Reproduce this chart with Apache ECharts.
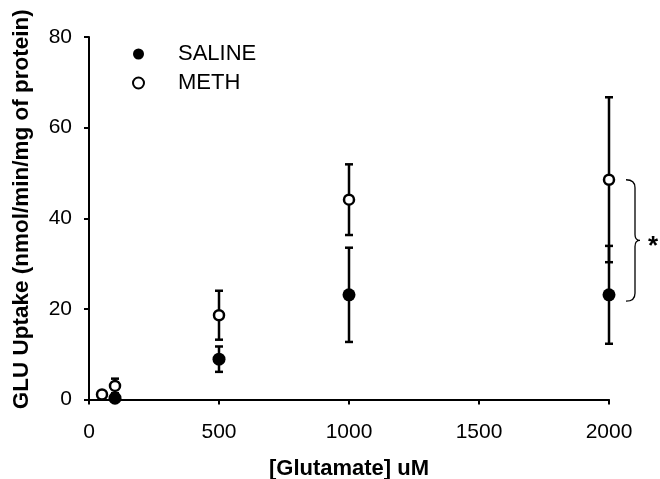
<!DOCTYPE html>
<html>
<head>
<meta charset="utf-8">
<script src="https://cdn.jsdelivr.net/npm/echarts@6/dist/echarts.min.js"></script>
<style>
  html, body { margin: 0; padding: 0; background: #fff; }
  #chart { width: 660px; height: 479px; }
</style>
</head>
<body>
<div id="chart"></div>
<script>
// glutamate concentration (uM)
const salineX = [100, 500, 1000, 2000]
const salineMean = [0.3, 8.9, 23.1, 23.1]
const salineErr = [0.4, 2.8, 10.4, 10.8]

const methX = [50, 100, 500, 1000, 2000]
const methMean = [1.1, 3.0, 18.6, 44.1, 48.5]
const methErr = [0.4, 1.6, 5.4, 7.8, 18.2]

// bracket between the two 2000 uM means
const bracketX = 2000
const bracketTop = 48.5
const bracketBottom = 21.7

const font = "'Liberation Sans', Arial, sans-serif"

const toErr = (xs, mean, err) => xs.map((x, i) => [x, mean[i] - err[i], mean[i] + err[i]])

// error bar renderer
const renderErr = (params, api) => {
  const lo = api.coord([api.value(0), api.value(1)])
  const hi = api.coord([api.value(0), api.value(2)])
  const w = 4
  const style = { stroke: '#000', lineWidth: 2.5 }
  return {
    type: 'group',
    children: [
      { type: 'line', shape: { x1: lo[0], y1: lo[1], x2: hi[0], y2: hi[1] }, style },
      { type: 'line', shape: { x1: hi[0] - w, y1: hi[1], x2: hi[0] + w, y2: hi[1] }, style },
      { type: 'line', shape: { x1: lo[0] - w, y1: lo[1], x2: lo[0] + w, y2: lo[1] }, style }
    ]
  }
}

// curly brace + asterisk
const renderBrace = (params, api) => {
  const a = api.coord([api.value(0), api.value(1)])
  const b = api.coord([api.value(0), api.value(2)])
  const x0 = a[0] + 17
  const xs = a[0] + 26
  const xt = a[0] + 31
  const y1 = a[1]
  const y2 = b[1]
  const ym = (y1 + y2) / 2
  const path =
    `M${x0},${y1} Q${xs},${y1} ${xs},${y1 + 8} L${xs},${ym - 6} Q${xs},${ym} ${xt},${ym} ` +
    `Q${xs},${ym} ${xs},${ym + 6} L${xs},${y2 - 8} Q${xs},${y2} ${x0},${y2}`
  return {
    type: 'group',
    children: [
      { type: 'path', shape: { pathData: path }, style: { stroke: '#000', lineWidth: 1.3, fill: null } },
      {
        type: 'text',
        style: {
          x: xt + 13, y: ym + 6, text: '*',
          fontSize: 26, fontWeight: 'bold', fontFamily: font,
          fill: '#000', align: 'center', verticalAlign: 'middle'
        }
      }
    ]
  }
}

const chart = echarts.init(document.getElementById('chart'))

const axisCommon = {
  axisLine: { lineStyle: { color: '#000', width: 2 } },
  axisTick: { inside: false, length: 5, lineStyle: { color: '#000', width: 2 } },
  splitLine: { show: false }
}

chart.setOption({
  animation: false,
  backgroundColor: '#fff',
  grid: { left: 89, right: 51, top: 37, bottom: 79.5, outerBoundsMode: 'none', containLabel: false },
  legend: {
    orient: 'vertical',
    left: 127,
    top: 38,
    itemWidth: 11,
    itemHeight: 11,
    itemGap: 7,
    data: ['SALINE', 'METH'],
    textStyle: { color: '#000', fontSize: 22, fontFamily: font, padding: [0, 0, 0, 29] }
  },
  xAxis: {
    type: 'value',
    min: 0,
    max: 2000,
    interval: 500,
    name: '[Glutamate] uM',
    nameLocation: 'middle',
    nameGap: 58,
    nameTextStyle: { color: '#000', fontSize: 22, fontWeight: 'bold', fontFamily: font },
    ...axisCommon,
    axisLabel: { color: '#000', fontSize: 21, fontFamily: font, margin: 22, formatter: v => String(v) }
  },
  yAxis: {
    type: 'value',
    min: 0,
    max: 80,
    interval: 20,
    name: 'GLU Uptake (nmol/min/mg of protein)',
    nameLocation: 'middle',
    nameGap: 56,
    nameTextStyle: {
      color: '#000', fontSize: 22.5, fontWeight: 'bold', fontFamily: font,
      padding: [0, 0, 0, 18]
    },
    ...axisCommon,
    axisLabel: { color: '#000', fontSize: 21, fontFamily: font, margin: 17 }
  },
  series: [
    {
      type: 'custom',
      renderItem: renderErr,
      encode: { x: 0, y: [1, 2] },
      data: toErr(salineX, salineMean, salineErr),
      z: 2
    },
    {
      type: 'custom',
      renderItem: renderErr,
      encode: { x: 0, y: [1, 2] },
      data: toErr(methX, methMean, methErr),
      z: 2
    },
    {
      name: 'SALINE',
      type: 'scatter',
      symbol: 'circle',
      symbolSize: 13,
      itemStyle: { color: '#000', opacity: 1 },
      data: salineX.map((x, i) => [x, salineMean[i]]),
      z: 3
    },
    {
      name: 'METH',
      type: 'scatter',
      symbol: 'circle',
      symbolSize: 10,
      itemStyle: { color: '#fff', borderColor: '#000', borderWidth: 2.5, opacity: 1 },
      data: methX.map((x, i) => [x, methMean[i]]),
      z: 4
    },
    {
      type: 'custom',
      renderItem: renderBrace,
      clip: false,
      encode: { x: 0, y: [1, 2] },
      data: [[bracketX, bracketTop, bracketBottom]],
      z: 5
    }
  ]
})
</script>
</body>
</html>
